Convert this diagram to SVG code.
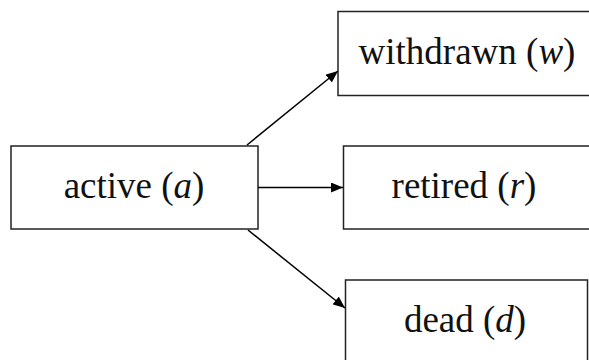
<svg xmlns="http://www.w3.org/2000/svg" width="589" height="360" viewBox="0 0 589 360">
<defs>
<style>
.box{fill:#fff;stroke:#222;stroke-width:1.5}
.lbl{font-family:"Liberation Serif","DejaVu Serif",serif;font-size:37px;fill:#111;text-anchor:middle}
.m{font-style:italic}
.edge{stroke:#000;stroke-width:1.5;fill:none;marker-end:url(#ah)}
</style>
<marker id="ah" viewBox="0 0 12 10" refX="12" refY="5" markerWidth="12" markerHeight="10" markerUnits="userSpaceOnUse" orient="auto">
<path d="M0,0 L12,5 L0,10 z" fill="#000"/>
</marker>
</defs>
<rect width="589" height="360" fill="#fff"/>
<g id="active"><rect class="box" x="11" y="146" width="247" height="83"/><text class="lbl" x="134" y="198">active (<tspan class="m">a</tspan>)</text></g>
<g id="withdrawn"><rect class="box" x="338" y="11.5" width="260" height="84"/><text class="lbl" x="467" y="64">withdrawn (<tspan class="m">w</tspan>)</text></g>
<g id="retired"><rect class="box" x="343.5" y="146" width="260" height="83"/><text class="lbl" x="464" y="198">retired (<tspan class="m">r</tspan>)</text></g>
<g id="dead"><rect class="box" x="345.5" y="280" width="242" height="90"/><text class="lbl" x="465" y="332">dead (<tspan class="m">d</tspan>)</text></g>
<g id="connectors">
<line class="edge" x1="247" y1="145" x2="338" y2="71"/>
<line class="edge" x1="258" y1="187.5" x2="343" y2="187.5"/>
<line class="edge" x1="248" y1="230" x2="345" y2="308"/>
</g>
</svg>
